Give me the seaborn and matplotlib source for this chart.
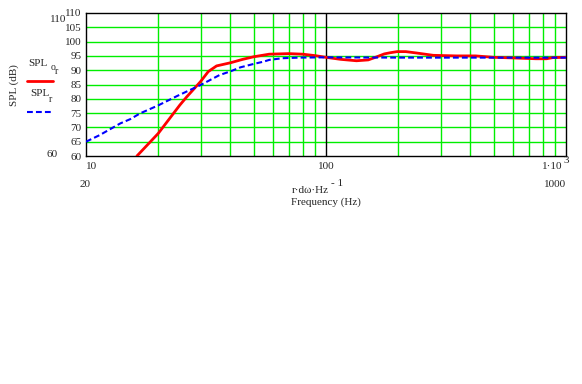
import numpy as np
import pandas as pd
import seaborn as sns
import matplotlib.pyplot as plt

# red curve: SPL_or
freq_or = [16.3, 20, 24.6, 26.3, 30, 32.3, 35, 40, 45, 50, 58, 70, 80, 90, 100,
           115, 134, 150, 163, 175, 185, 198, 215, 239, 280, 350, 420, 500, 600,
           750, 830, 880, 1000]
spl_or = [60, 67.9, 77.8, 80.7, 86, 89.5, 91.5, 92.6, 93.8, 94.7, 95.6, 95.8,
          95.6, 95.1, 94.5, 93.8, 93.3, 93.6, 94.7, 95.7, 96.1, 96.5, 96.5, 96.0,
          95.2, 95.0, 95.0, 94.5, 94.3, 94.0, 94.0, 94.4, 94.5]

# blue dashed curve: SPL_r
freq_r = [10, 11.4, 13.9, 15.3, 16.8, 20, 24, 30, 36, 40, 44, 50, 55, 58, 66, 78,
          100, 200, 500, 1000]
spl_r = [65, 67.3, 71.4, 72.9, 74.9, 77.7, 81, 84.8, 88.3, 89.6, 91, 92.2, 93.0,
         93.6, 94.2, 94.4, 94.5, 94.4, 94.4, 94.4]

yticks = list(range(60, 111, 5))

df_or = pd.DataFrame({"f": freq_or, "spl": spl_or})
df_r = pd.DataFrame({"f": freq_r, "spl": spl_r})

sns.set_style("white")
plt.rcParams['font.family'] = ['Liberation Serif', 'DejaVu Serif']

fig = plt.figure(figsize=(5.82, 3.84), dpi=100)
ax = fig.add_axes([86/582, 1-156/384, 480/582, 143/384])

ax.set_xscale("log")
ax.set_xlim(10, 1000)
ax.set_ylim(60, 110)

grid_c = "#00ee00"
minor = [k * d for d in (10, 100) for k in range(2, 10)]
for v in minor:
    ax.axvline(v, color=grid_c, lw=1, zorder=1)
for v in yticks[1:-1]:
    ax.axhline(v, color=grid_c, lw=1, zorder=1)
ax.axvline(100, color="black", lw=1, zorder=1)

dash = (0, (2.8, 1.5))
sns.lineplot(data=df_or, x="f", y="spl", ax=ax, color="#ff0000", lw=2, zorder=3)
sns.lineplot(data=df_r, x="f", y="spl", ax=ax, color="#0000ff", lw=1.5,
             linestyle=dash, zorder=4)

for s in ax.spines.values():
    s.set_color("black")
    s.set_linewidth(1)

ax.set_yticks(yticks)
ax.set_yticklabels([str(t) for t in yticks], fontsize=8)
ax.set_xticks([])
ax.minorticks_off()
ax.tick_params(axis="y", length=0, pad=3)
ax.set_xlabel("")
ax.set_ylabel("")

fs = 8


def txt(x, y, s, size=fs, **kw):
    fig.text(x/582, 1-y/384, s, fontsize=size, va="center", **kw)


txt(86, 166, "10", ha="left")
txt(326, 166, "100", ha="center")
txt(562, 166, "1·10", ha="right")
txt(563, 160, "3", ha="left")
txt(85, 185, "20", ha="center")
txt(555, 185, "1000", ha="center")
txt(329, 191, "r·dω·Hz", ha="right")
txt(331, 183, "- 1", ha="left")
txt(326, 202, "Frequency (Hz)", ha="center")
txt(58, 19, "110", ha="center")
txt(52, 154, "60", ha="center")
txt(14, 85, "SPL (dB)", rotation=90, ha="center")

txt(28, 64, "SPL", ha="left")
txt(51, 67, "o", size=fs-1, ha="left")
txt(55, 71, "r", size=fs-1, ha="left")
fig.add_artist(plt.Line2D([27/582, 53/582], [1-81/384, 1-81/384], color="#ff0000", lw=2))
txt(30, 94, "SPL", ha="left")
txt(49, 100, "r", size=fs-1, ha="left")
fig.add_artist(plt.Line2D([27/582, 53/582], [1-112/384, 1-112/384], color="#0000ff",
                          lw=1.5, linestyle=dash))

fig.savefig("out.png", dpi=100)
